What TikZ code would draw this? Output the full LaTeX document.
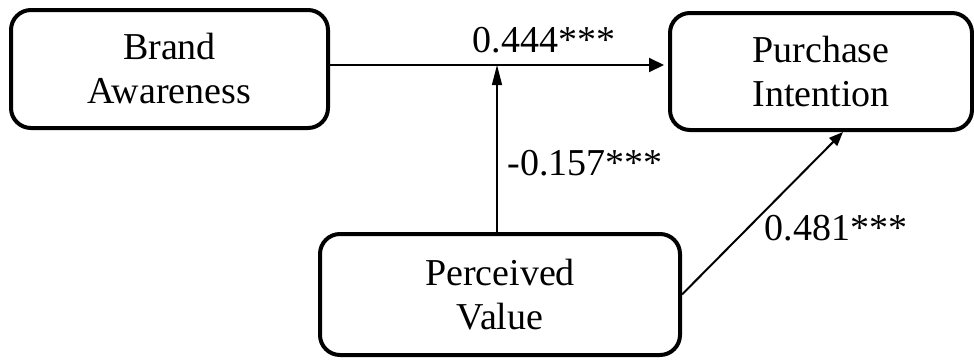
\documentclass[tikz,border=0pt]{standalone}
\usepackage{fontspec}
\setmainfont{Liberation Serif}
\usepackage{tikz}
\usetikzlibrary{arrows.meta}

\begin{document}
\begin{tikzpicture}[
    x=1pt,y=1pt,
    construct/.style={rounded corners=20pt, draw=black, line width=4pt, fill=white, align=center, font=\fontsize{38}{44}\selectfont},
    coef/.style={anchor=base, font=\fontsize{38}{44}\selectfont},
    path/.style={draw=black, line width=2pt, -{Triangle[length=15pt,width=14pt]}},
    modpath/.style={draw=black, line width=1.3pt, -{Triangle[length=20pt,width=10pt]}},
    diagpath/.style={draw=black, line width=2pt, -{Triangle[length=14pt,width=11pt]}}
  ]
    \useasboundingbox (0,0) rectangle (974,360);

    \node[construct, minimum width=317pt, minimum height=118pt] (aware) at (169.5,291) {Brand\\Awareness};
    \node[construct, minimum width=302pt, minimum height=117pt] (intent) at (821,288.5) {Purchase\\Intention};
    \node[construct, minimum width=360pt, minimum height=121pt] (value) at (500,65.5) {Perceived\\Value};

    \coordinate (joint) at (497,295);

    \draw[path, shorten >=4pt] (aware.east |- joint) -- (joint -| intent.west);
    \draw[modpath] (value.north -| joint) -- (joint);
    \draw[diagpath] (value.east) -- ([xshift=22pt]intent.south);

    \node[coef] (b444) at (544,308) {0.444***};
    \node[coef] (b157) at (585,185) {-0.157***};
    \node[coef] (b481) at (836,120) {0.481***};
  \end{tikzpicture}
\end{document}
